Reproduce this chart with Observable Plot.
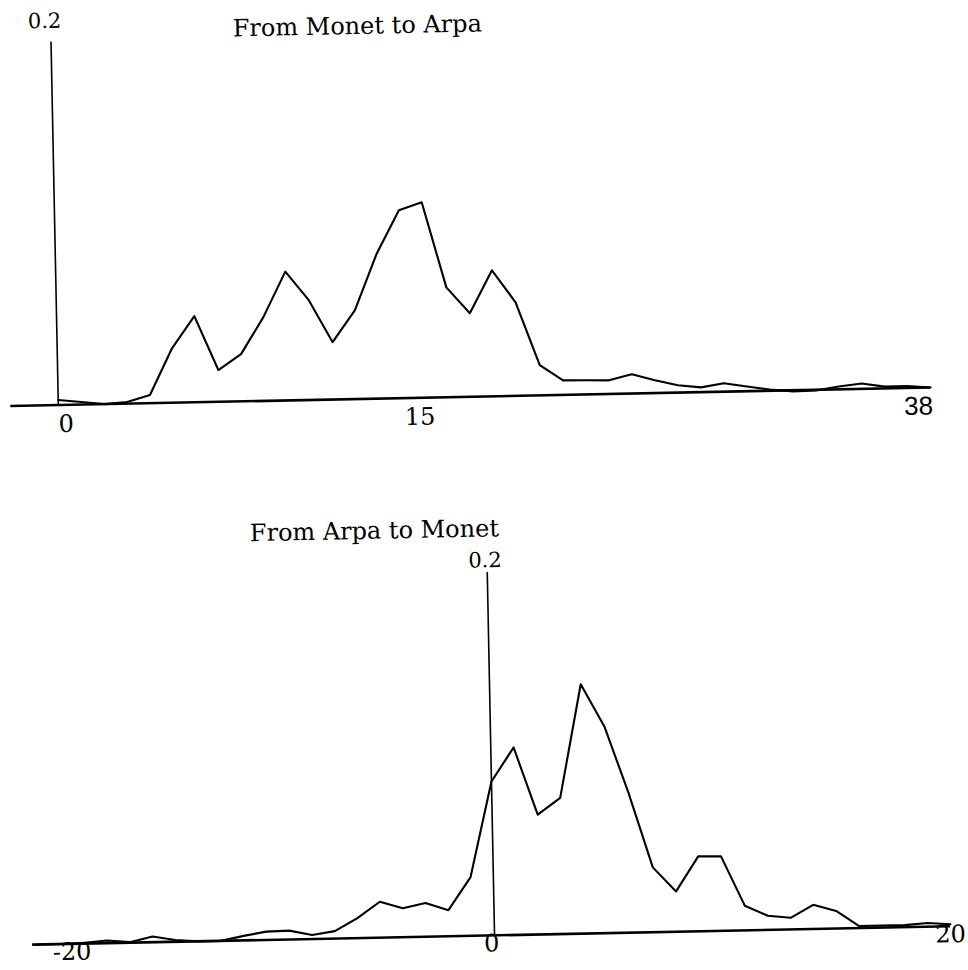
<!DOCTYPE html>
<html>
<head>
<meta charset="utf-8">
<script src="https://cdn.jsdelivr.net/npm/d3@7"></script>
<script src="https://cdn.jsdelivr.net/npm/@observablehq/plot@0.6"></script>
<style>
  html, body { margin: 0; padding: 0; background: #fff; overflow: hidden; }
  #root { position: relative; width: 968px; height: 970px; transform: rotate(-1.15deg); transform-origin: 484px 485px; }
  #top, #bottom { position: absolute; left: 0; }
  #top { top: 0; }
  #bottom { top: 470px; }
  svg { overflow: visible; }
  g[aria-label="title"] text { letter-spacing: 0.9px; }
</style>
</head>
<body>
<div id="root"><div id="top"></div><div id="bottom"></div></div>
<script>
// ---- data ----
const topTitle = "From Monet to Arpa";
const bottomTitle = "From Arpa to Monet";

const topLag = [0,1,2,3,4,5,6,7,8,9,10,11,12,13,14,15,16,17,18,19,20,21,22,23,24,25,26,27,28,29,30,31,32,33,34,35,36,37,38];
const topValue = [0.0028,0.0014,0.0,0.0009,0.0045,0.030,0.0475,0.0175,0.026,0.046,0.071,0.055,0.0316,0.049,0.080,0.1035,0.1077,0.0605,0.046,0.0694,0.0515,0.0166,0.008,0.0078,0.0075,0.0106,0.007,0.004,0.0026,0.0046,0.0026,0.0007,-0.0006,-0.0004,0.0016,0.003,0.001,0.001,0.0];

const bottomLag = [-20,-19,-18,-17,-16,-15,-14,-13,-12,-11,-10,-9,-8,-7,-6,-5,-4,-3,-2,-1,0,1,2,3,4,5,6,7,8,9,10,11,12,13,14,15,16,17,18,19,20];
const bottomValue = [0.0,0.0,0.0005,0.0015,0.0003,0.0032,0.001,0.0,0.0,0.0025,0.0046,0.0049,0.0022,0.0041,0.011,0.0198,0.016,0.0186,0.0144,0.0324,0.0848,0.1033,0.066,0.075,0.1374,0.1139,0.077,0.0357,0.0222,0.0413,0.041,0.0136,0.0078,0.0064,0.0133,0.0097,0.0011,0.0011,0.0011,0.002,0.0011];

const topXTicks = [0, 15, 38];
const bottomXTicks = [-20, 0, 20];
const yTicks = [0.2];

const FONT = "'DejaVu Serif', serif";
const topData = topLag.map((lag, i) => ({lag, value: topValue[i]}));
const bottomData = bottomLag.map((lag, i) => ({lag, value: bottomValue[i]}));

function panel(o) {
  const xt = o.xTicks;
  return Plot.plot({
    width: 968,
    height: o.height,
    marginTop: o.marginTop,
    marginBottom: o.marginBottom,
    marginLeft: o.marginLeft,
    marginRight: o.marginRight,
    x: {domain: o.xDomain, range: o.xRange, axis: null},
    y: {domain: [0, 0.2], range: [o.height - o.marginBottom, o.marginTop], axis: null},
    style: {fontFamily: FONT, background: "transparent", color: "black", overflow: "visible"},
    marks: [
      Plot.ruleX([0], {stroke: "black", strokeWidth: 1.6}),
      Plot.ruleY([0], {stroke: "black", strokeWidth: 2.6}),
      Plot.line(o.data, {x: "lag", y: "value", stroke: "black", strokeWidth: 2.1}),
      Plot.text(yTicks, {x: () => 0, y: d => d, text: d => String(d), fontSize: 21, dx: o.yLabelDx, dy: o.yLabelDy, fill: "black"}),
      Plot.text([xt[0]], {x: d => d, frameAnchor: "bottom", text: d => String(d), fontSize: 24, textAnchor: "start", dx: o.firstDx, dy: o.tickDy, fill: "black"}),
      Plot.text([xt[1]], {x: d => d, frameAnchor: "bottom", text: d => String(d), fontSize: 24, textAnchor: "middle", dx: o.midDx, dy: o.tickDy, fill: "black"}),
      Plot.text([xt[2]], {x: d => d, frameAnchor: "bottom", text: d => String(d), fontSize: o.lastSize, fontFamily: o.lastFont, textAnchor: o.lastAnchor, dx: o.lastDx, dy: o.tickDy, fill: "black"}),
      Plot.text([o.title], {frameAnchor: "top", text: d => d, fontSize: 24, lineAnchor: "bottom", dx: o.titleDx, dy: o.titleDy, fill: "black", ariaLabel: "title"})
    ]
  });
}

document.getElementById("top").append(panel({
  data: topData, title: topTitle, xTicks: topXTicks,
  height: 470, marginTop: 33, marginBottom: 74, marginLeft: 12, marginRight: 36,
  xDomain: [0, 38], xRange: [59.5, 932],
  yLabelDx: -6, yLabelDy: -21,
  firstDx: 0, midDx: 17, lastAnchor: "end", lastDx: 2, tickDy: 27,
  lastFont: "'Liberation Sans', sans-serif", lastSize: 26,
  titleDx: -106, titleDy: -2
}));

document.getElementById("bottom").append(panel({
  data: bottomData, title: bottomTitle, xTicks: bottomXTicks,
  height: 500, marginTop: 102, marginBottom: 35, marginLeft: 23, marginRight: 27,
  xDomain: [-20, 20], xRange: [29, 941],
  yLabelDx: -2, yLabelDy: -12,
  firstDx: 14, midDx: -3, lastAnchor: "middle", lastDx: 0, tickDy: 16,
  lastFont: FONT, lastSize: 24,
  titleDx: -109, titleDy: -36
}));
</script>
</body>
</html>
